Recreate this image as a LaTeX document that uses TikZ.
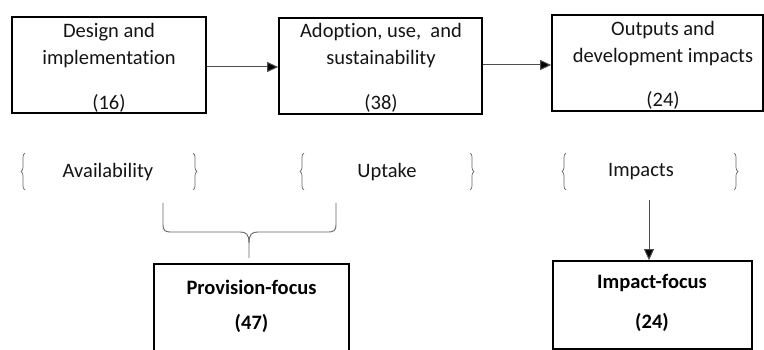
\documentclass[tikz,border=0pt]{standalone}
\usepackage{fontspec}
\setmainfont{Carlito}[RawFeature={-liga;-clig;-calt}]
\usetikzlibrary{arrows.meta,decorations.pathreplacing}
\begin{document}
\begin{tikzpicture}[x=1pt,y=-1pt,
  box/.style={draw=black,line width=1.7pt,inner sep=0pt},
  txt/.style={inner sep=0pt,text=black!92,font=\fontsize{20.5}{24}\selectfont},
  btxt/.style={inner sep=0pt,text=black,font=\fontsize{20.5}{24}\selectfont\bfseries},
  flow/.style={draw=black!70,line width=1pt,-{Triangle[length=11pt,width=10pt,fill=black]}},
  cbrace/.style={draw=black!60,line width=0.7pt,decorate,decoration={brace,amplitude=4pt}},
  ubrace/.style={draw=black!60,line width=0.9pt}]
\useasboundingbox (0,0) rectangle (764,350);
\clip (0,0) rectangle (764,350);
% top boxes
\node[box,minimum width=194pt,minimum height=96pt] (b1) at (109,65) {};
\node[box,minimum width=203pt,minimum height=96pt] (b2) at (380.5,66) {};
\node[box,minimum width=211pt,minimum height=96pt] (b3) at (657.5,63) {};
\node[txt] (t1a) at (109,32) {Design and};
\node[txt] (t1b) at (109,59) {implementation};
\node[txt] (t1c) at (109,103) {(16)};
\node[txt] (t2a) at (381,32) {Adoption, use,\ \ and};
\node[txt] (t2b) at (381,59) {sustainability};
\node[txt] (t2c) at (381,103) {(38)};
\node[txt] (t3a) at (663,30) {Outputs and};
\node[txt] (t3b) at (663,57) {development impacts};
\node[txt] (t3c) at (663,100) {(24)};
\coordinate (a1s) at (b1.east |- 0,67);
\coordinate (a1e) at (b2.west |- 0,67);
\draw[flow] (a1s) -- (a1e);
\coordinate (a2s) at (b2.east |- 0,65);
\coordinate (a2e) at (b3.west |- 0,65);
\draw[flow] (a2s) -- (a2e);
% brace row
\node[txt] (avail) at (108,172) {Availability};
\node[txt] (uptake) at (387,172) {Uptake};
\node[txt] (impacts) at (641,172) {Impacts};
\coordinate (l1t) at (25,153); \coordinate (l1b) at (25,190);
\coordinate (r1t) at (193,153); \coordinate (r1b) at (193,190);
\coordinate (l2t) at (304,153); \coordinate (l2b) at (304,190);
\coordinate (r2t) at (470,153); \coordinate (r2b) at (470,190);
\coordinate (l3t) at (566,153); \coordinate (l3b) at (566,190);
\coordinate (r3t) at (734,153); \coordinate (r3b) at (734,190);
\draw[cbrace] (l1b) -- (l1t);
\draw[cbrace] (r1t) -- (r1b);
\draw[cbrace] (l2b) -- (l2t);
\draw[cbrace] (r2t) -- (r2b);
\draw[cbrace] (l3b) -- (l3t);
\draw[cbrace] (r3t) -- (r3b);
% bottom boxes
\node[box,minimum width=195pt,minimum height=110pt] (pb) at (251.5,319) {};
\node[btxt] (pt1) at (251.5,287) {Provision-focus};
\node[btxt] (pt2) at (251.5,323) {(47)};
\node[box,minimum width=199pt,minimum height=88pt] (ib) at (652.5,305) {};
\node[btxt] (it1) at (652,283) {Impact-focus};
\node[btxt] (it2) at (652,322) {(24)};
% underbrace
\coordinate (ub1) at (163,203);
\coordinate (ub2) at (336,203);
\coordinate (ubtip) at (249,258);
\draw[ubrace] (ub1) -- (163,224) .. controls (163,231) and (165,232) .. (172,232)
  -- (240,232) .. controls (246,232) and (249,234) .. (249,243) -- (ubtip);
\draw[ubrace] (ub2) -- (336,224) .. controls (336,231) and (334,232) .. (327,232)
  -- (258,232) .. controls (252,232) and (249,234) .. (249,243);
% impact arrow
\coordinate (ia) at (649,200);
\draw[flow] (ia) -- (ia |- ib.north);
\end{tikzpicture}
\end{document}
